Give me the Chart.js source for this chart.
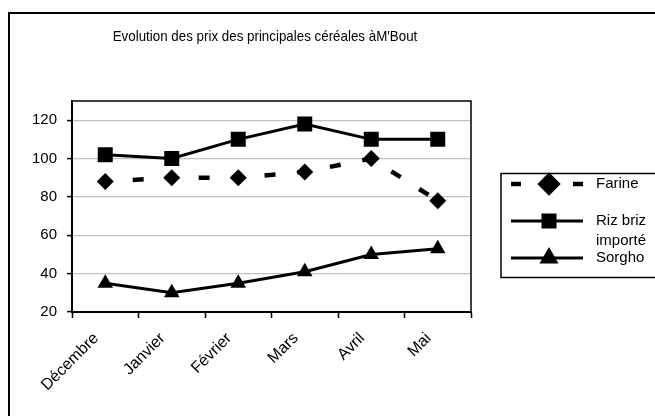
<!DOCTYPE html>
<html>
<head>
<meta charset="utf-8">
<script src="https://cdn.jsdelivr.net/npm/chart.js@4/dist/chart.umd.min.js"></script>
<style>
html,body{margin:0;padding:0;background:#fff;}
#wrap{width:655px;height:416px;position:relative;}
</style>
</head>
<body>
<div id="wrap"><canvas id="c" width="655" height="416"></canvas></div>
<script>
const titleText = "Evolution des prix des principales céréales àM'Bout";
const months = ["Décembre", "Janvier", "Février", "Mars", "Avril", "Mai"];
const farine = [88, 90, 90, 93, 100, 78];
const riz = [102, 100, 110, 118, 110, 110];
const sorgho = [35, 30, 35, 41, 50, 53];
const seriesNames = ["Farine", "Riz briz importé", "Sorgho"];
const yTickValues = [20, 40, 60, 80, 100, 120];

const FONT = "'Liberation Sans', Arial, sans-serif";

const decor = {
  id: 'decor',
  beforeDraw(chart) {
    const ctx = chart.ctx;
    ctx.save();
    ctx.fillStyle = '#fff';
    ctx.fillRect(0, 0, chart.width, chart.height);
    ctx.strokeStyle = '#000';
    ctx.lineWidth = 2;
    ctx.beginPath();
    ctx.moveTo(9, 420);
    ctx.lineTo(9, 13);
    ctx.lineTo(660, 13);
    ctx.stroke();
    ctx.fillStyle = '#000';
    ctx.font = '15px ' + FONT;
    ctx.textAlign = 'center';
    ctx.textBaseline = 'middle';
    ctx.translate(265, 37);
    ctx.scale(0.89, 1);
    ctx.fillText(titleText, 0, 0);
    ctx.restore();
  },
  afterDraw(chart) {
    const ctx = chart.ctx;
    const a = chart.chartArea;
    ctx.save();
    ctx.strokeStyle = '#000';
    ctx.lineWidth = 1.5;
    ctx.beginPath();
    ctx.moveTo(a.left, a.top);
    ctx.lineTo(a.right, a.top);
    ctx.lineTo(a.right, a.bottom);
    ctx.stroke();
    // legend
    ctx.lineWidth = 1.5;
    ctx.strokeRect(501, 173.5, 170, 104);
    const rows = [184, 221, 258];
    const legendRadius = [8.5, 8.5, 8];
    chart.data.datasets.forEach((ds, i) => {
      const y = rows[i];
      ctx.save();
      ctx.strokeStyle = '#000';
      ctx.lineWidth = ds.borderWidth;
      if (ds.borderDash) { ctx.setLineDash([10, 21]); ctx.lineDashOffset = 0; }
      ctx.beginPath();
      ctx.moveTo(511, y);
      ctx.lineTo(583, y);
      ctx.stroke();
      ctx.setLineDash([]);
      ctx.fillStyle = '#000';
      Chart.helpers.drawPoint(ctx, {pointStyle: ds.pointStyle, radius: legendRadius[i], rotation: 0, borderWidth: 1}, 549, y);
      ctx.fill();
      ctx.restore();
    });
    ctx.fillStyle = '#000';
    ctx.font = '15px ' + FONT;
    ctx.textAlign = 'left';
    ctx.textBaseline = 'middle';
    ctx.fillText(seriesNames[0], 596, rows[0]);
    ctx.fillText("Riz briz", 596, rows[1]);
    ctx.fillText("importé", 596, rows[1] + 20);
    ctx.fillText(seriesNames[2], 596, rows[2]);
    ctx.restore();
  }
};

new Chart(document.getElementById('c'), {
  type: 'line',
  data: {
    labels: months,
    datasets: [
      {label: seriesNames[0], data: farine, borderColor: '#000', backgroundColor: '#000', borderWidth: 4.5,
       borderDash: [11, 22], borderDashOffset: 5.5, pointStyle: 'rectRot', pointRadius: 8.5, pointBorderWidth: 0, tension: 0},
      {label: seriesNames[1], data: riz, borderColor: '#000', backgroundColor: '#000', borderWidth: 3,
       pointStyle: 'rect', pointRadius: 10.6, pointBorderWidth: 0, tension: 0},
      {label: seriesNames[2], data: sorgho, borderColor: '#000', backgroundColor: '#000', borderWidth: 3,
       pointStyle: 'triangle', pointRadius: 9, pointBorderWidth: 0, tension: 0}
    ]
  },
  options: {
    responsive: false,
    animation: false,
    layout: {padding: {left: 0, top: 101, right: 184, bottom: 4}},
    plugins: {legend: {display: false}, title: {display: false}, tooltip: {enabled: false}},
    scales: {
      x: {
        offset: true,
        afterFit(s) { s.height = 100; },
        grid: {offset: true, drawOnChartArea: false, drawTicks: true, tickLength: 6, tickColor: '#000', tickWidth: 1.5},
        border: {color: '#000', width: 2},
        ticks: {color: '#000', font: {family: FONT, size: 16}, minRotation: 45, maxRotation: 45, padding: 11, labelOffset: -9}
      },
      y: {
        min: 20, max: 130,
        afterFit(s) { s.width = 72; },
        afterBuildTicks(s) { s.ticks = yTickValues.map(v => ({value: v})); },
        grid: {color: '#c0c0c0', lineWidth: 1.2, drawTicks: true, tickLength: 5, tickColor: '#000', tickWidth: 1.5},
        border: {color: '#000', width: 2},
        ticks: {color: '#000', font: {family: FONT, size: 15}, padding: 10, includeBounds: false}
      }
    }
  },
  plugins: [decor]
});
</script>
</body>
</html>
